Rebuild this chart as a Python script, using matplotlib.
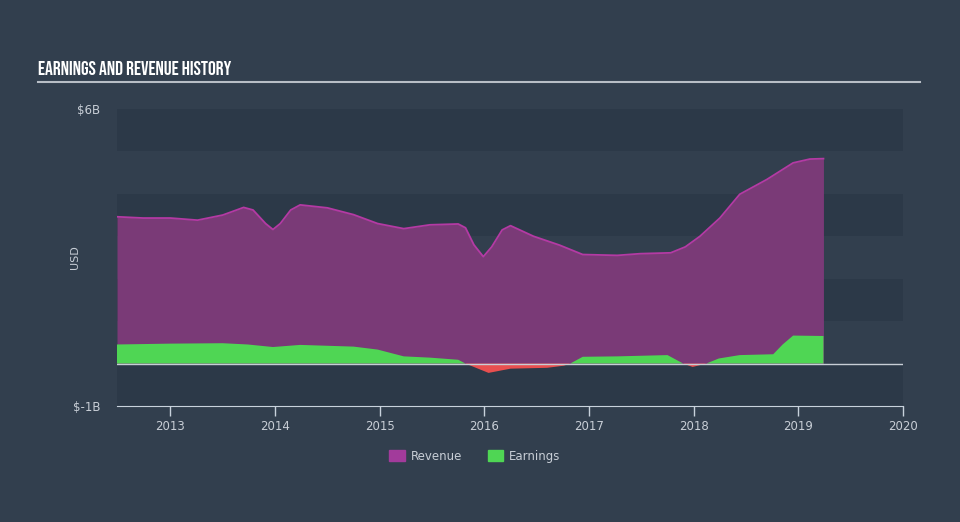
import numpy as np
import matplotlib
matplotlib.use("Agg")
import matplotlib.pyplot as plt
from matplotlib.patches import Patch

# Donnees (annees, milliards USD)
rev_years = [2012.49, 2012.74, 2013.0, 2013.26, 2013.5, 2013.7, 2013.79, 2013.91, 2013.98,
             2014.05, 2014.15, 2014.24, 2014.5, 2014.75, 2014.98, 2015.23, 2015.48, 2015.75,
             2015.82, 2015.9, 2015.99, 2016.07, 2016.17, 2016.25, 2016.47, 2016.72, 2016.94,
             2017.27, 2017.49, 2017.78, 2017.92, 2018.06, 2018.25, 2018.44, 2018.7, 2018.95,
             2019.11, 2019.24]
revenue = [3.46, 3.43, 3.43, 3.38, 3.5, 3.68, 3.62, 3.3, 3.16,
           3.3, 3.62, 3.74, 3.67, 3.51, 3.3, 3.18, 3.27, 3.29,
           3.2, 2.8, 2.52, 2.75, 3.15, 3.25, 3.0, 2.79, 2.57,
           2.55, 2.59, 2.61, 2.75, 3.0, 3.43, 3.99, 4.34, 4.73,
           4.82, 4.83]

earn_years = [2012.49, 2013.0, 2013.5, 2013.74, 2013.98, 2014.24, 2014.75, 2014.98,
              2015.23, 2015.48, 2015.75, 2015.82, 2016.04, 2016.25, 2016.6, 2016.76,
              2016.82, 2016.94, 2017.27, 2017.75, 2017.84, 2017.9, 2017.99, 2018.12,
              2018.24, 2018.44, 2018.76, 2018.85, 2018.95, 2019.24]
earnings = [0.45, 0.47, 0.48, 0.45, 0.39, 0.44, 0.40, 0.33,
            0.17, 0.14, 0.09, 0.0, -0.22, -0.12, -0.10, -0.05,
            0.0, 0.16, 0.17, 0.20, 0.08, 0.0, -0.08, 0.0,
            0.12, 0.20, 0.22, 0.45, 0.66, 0.65]

x_ticks = [2013, 2014, 2015, 2016, 2017, 2018, 2019, 2020]

BG = "#323f4e"
BAND = "#2c3948"
REV_FILL = "#7a3a77"
REV_LINE = "#b43aa4"
EARN_POS = "#4fd654"
EARN_NEG = "#e84f4f"
TXT = "#c8ced6"

fig = plt.figure(figsize=(9.6, 5.22), dpi=100)
fig.patch.set_facecolor(BG)

# Titre et trait
fig.text(38 / 960, 1 - 68 / 522, "EARNINGS AND REVENUE HISTORY",
         family=["Bebas Neue", "Fjalla One", "DejaVu Sans"],
         fontsize=14, color="white", va="center", ha="left")
fig.add_artist(plt.Line2D([38 / 960, 920 / 960], [1 - 82 / 522, 1 - 82 / 522],
                          color="#b8bec6", lw=1.5))

ax = fig.add_axes([117 / 960, 1 - 406 / 522, 786 / 960, 297 / 522])
ax.set_facecolor(BG)
ax.set_xlim(2012.49, 2020.0)
ax.set_ylim(-1, 6)

# bandes alternees
for y0 in [5, 3, 1, -1]:
    ax.axhspan(y0, y0 + 1, color=BAND, lw=0, zorder=0)

rx = np.array(rev_years)
ry = np.array(revenue)
ax.fill_between(rx, 0, ry, color=REV_FILL, lw=0, zorder=2)
ax.plot(rx, ry, color=REV_LINE, lw=1.3, zorder=3)

ex = np.array(earn_years)
ey = np.array(earnings)
ax.fill_between(ex, 0, ey, where=ey >= 0, interpolate=True, color=EARN_POS, lw=0, zorder=4)
ax.fill_between(ex, 0, ey, where=ey <= 0, interpolate=True, color=EARN_NEG, lw=0, zorder=4)

ax.axhline(0, color="#c8ced6", lw=1, zorder=5)

for s in ["top", "right", "left"]:
    ax.spines[s].set_visible(False)
ax.spines["bottom"].set_color("#c8d2dc")

ax.set_xticks(x_ticks)
ax.set_xticklabels([str(t) for t in x_ticks])
ax.tick_params(axis="x", colors="#c8d2dc", labelcolor=TXT, length=7, width=1,
               labelsize=8.5, pad=3)
ax.set_yticks([6, -1])
ax.set_yticklabels(["$6B", "$-1B"])
ax.tick_params(axis="y", length=0, labelcolor=TXT, labelsize=8.5, pad=12)
ax.set_ylabel("USD", color=TXT, fontsize=8)
ax.yaxis.set_label_coords(-0.047, 0.5)

handles = [Patch(color="#a23b9b", label="Revenue"), Patch(color=EARN_POS, label="Earnings")]
fig.legend(handles=handles, loc="center", bbox_to_anchor=(475 / 960, 1 - 456 / 522),
           ncol=2, frameon=False, fontsize=8.5, labelcolor=TXT,
           handlelength=1.3, handleheight=1.1, columnspacing=2.2, handletextpad=0.5)

fig.savefig("out.png", dpi=100, facecolor=BG)
